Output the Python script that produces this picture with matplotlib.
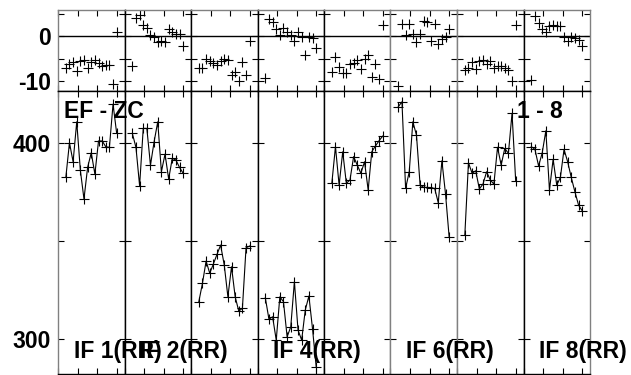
import matplotlib.pyplot as plt
from matplotlib.ticker import MultipleLocator

plt.rcParams['font.family'] = ['Liberation Sans', 'DejaVu Sans']
plt.rcParams['axes.unicode_minus'] = False

# sample positions inside each panel
sample_x = [2.0, 2.93, 3.86, 4.79, 5.71, 6.64, 7.57, 8.5, 9.43, 10.36, 11.29, 12.21, 13.14, 14.07, 15.0]

# residuals (upper strip)
resid_1 = [-7.0, -6.1, -5.8, -7.7, -5.6, -5.4, -7.0, -5.8, -5.4, -6.0, -6.7, -6.4, -6.4, -10.7, 1.0]
resid_2 = [-6.6, 4.0, 4.6, 2.4, 1.8, 0.2, -0.3, -1.2, -1.0, -1.3, 1.6, 0.9, 0.4, 0.4, -2.1]
resid_3 = [-7.1, -7.1, -5.0, -5.6, -6.0, -6.5, -5.6, -5.0, -5.3, -8.6, -7.9, -9.9, -5.8, -8.6, -1.0]
resid_4 = [-9.3, 3.8, 3.1, 1.6, 0.3, 1.9, 0.9, 0.2, -1.0, 0.9, -0.3, -4.2, -0.1, -0.4, -2.7]
resid_5 = [-7.9, -4.7, -6.8, -8.1, -8.1, -6.2, -5.9, -5.3, -7.2, -5.0, -4.1, -9.0, -6.2, -9.6, 2.4]
resid_6 = [-11.1, 2.7, 0.2, 2.8, 0.5, -1.2, 0.4, 3.3, 3.2, -1.0, 2.8, -1.8, -0.7, -0.2, 1.6]
resid_7 = [-7.5, -7.1, -5.8, -7.3, -5.5, -5.3, -6.2, -5.5, -7.0, -6.7, -6.7, -7.0, -7.5, -9.9, 2.4]
resid_8 = [-9.7, 4.4, 2.9, 1.6, 0.9, 2.2, 2.5, 2.2, 2.2, -0.3, -1.0, -0.3, -0.4, -0.8, -2.1]

# main values (lower strip)
value_1 = [382.3, 400.0, 390.3, 410.7, 386.0, 371.3, 387.4, 394.9, 384.0, 400.9, 400.9, 398.0, 397.6, 419.7, 404.8]
value_2 = [404.8, 397.6, 378.1, 407.3, 407.3, 388.6, 400.5, 410.7, 385.2, 394.2, 381.5, 392.0, 391.2, 387.4, 384.4]
value_3 = [318.9, 328.3, 339.6, 333.4, 338.1, 343.0, 347.8, 337.6, 321.4, 336.7, 321.4, 314.1, 315.5, 346.4, 347.3]
value_4 = [320.9, 309.9, 311.2, 299.3, 321.4, 318.9, 301.0, 306.0, 329.1, 304.4, 299.3, 314.6, 321.8, 305.0, 285.7]
value_5 = [379.3, 398.0, 378.4, 395.4, 379.3, 381.0, 392.9, 388.6, 384.4, 390.3, 375.9, 395.4, 398.3, 401.0, 403.4]
value_6 = [418.4, 420.9, 376.7, 385.2, 410.7, 403.9, 378.4, 377.2, 377.2, 377.0, 376.7, 369.4, 390.8, 373.8, 351.7]
value_7 = [352.9, 389.8, 384.4, 385.7, 376.4, 378.9, 385.2, 381.0, 378.9, 397.7, 388.6, 397.1, 394.6, 415.0, 380.6]
value_8 = [398.0, 396.6, 388.1, 394.9, 406.1, 375.9, 391.5, 378.4, 382.3, 396.6, 390.3, 382.3, 375.0, 368.2, 365.3]

resids = [resid_1, resid_2, resid_3, resid_4, resid_5, resid_6, resid_7, resid_8]
values = [value_1, value_2, value_3, value_4, value_5, value_6, value_7, value_8]
if_labels = ['IF 1(RR)', 'IF 2(RR)', None, 'IF 4(RR)', None, 'IF 6(RR)', None, 'IF 8(RR)']

W, H = 631, 375
fig = plt.figure(figsize=(W / 100, H / 100), dpi=100)

x0, pw = 58, 66.5
top_y0, top_y1, bot_y1 = 10, 91, 374
edge_col = ['#808080', 'k', 'k', 'k', 'k', '#808080', '#808080', 'k', '#808080']
bold = dict(fontsize=16.5, fontweight='bold')


def style(ax, i, major, minor):
    ax.set_xlim(0, 17)
    ax.xaxis.set_major_locator(MultipleLocator(5))
    ax.yaxis.set_major_locator(MultipleLocator(major))
    ax.yaxis.set_minor_locator(MultipleLocator(minor))
    ax.tick_params(which='both', direction='in', length=4, width=0.8,
                   top=True, bottom=True, left=True, right=True,
                   labelbottom=False, labelleft=(i == 0), pad=5)
    for lab in ax.get_yticklabels():
        lab.set_fontsize(16.5)
        lab.set_fontweight('bold')
    ax.spines['left'].set_color(edge_col[i])
    ax.spines['right'].set_color(edge_col[i + 1])
    for s in ax.spines.values():
        s.set_linewidth(1.0)


for i in range(8):
    left = (x0 + i * pw) / W
    # upper residual strip
    ax_t = fig.add_axes([left, 1 - top_y1 / H, pw / W, (top_y1 - top_y0) / H])
    ax_t.plot(sample_x, resids[i], '+', color='k', ms=7, mew=0.8)
    ax_t.axhline(0, color='k', lw=1.0)
    ax_t.set_ylim(-12.2, 5.8)
    style(ax_t, i, 10, 5)
    ax_t.spines['top'].set_color('#808080')
    ax_t.spines['bottom'].set_color('k')

    # lower main strip
    ax_b = fig.add_axes([left, 1 - bot_y1 / H, pw / W, (bot_y1 - top_y1) / H])
    ax_b.plot(sample_x, values[i], '-', color='k', lw=0.8,
              marker='+', ms=7, mew=0.8)
    ax_b.set_ylim(282, 426.4)
    style(ax_b, i, 100, 50)
    ax_b.spines['top'].set_color('k')

    if if_labels[i]:
        fig.text((x0 + i * pw + 15.5) / W, 1 - 358.3 / H, if_labels[i],
                 ha='left', va='baseline', **bold)

fig.text(64 / W, 1 - 118.3 / H, 'EF - ZC', ha='left', va='baseline', **bold)
fig.text(562.3 / W, 1 - 118.3 / H, '1 - 8', ha='right', va='baseline', **bold)

fig.savefig('out.png', dpi=100)
